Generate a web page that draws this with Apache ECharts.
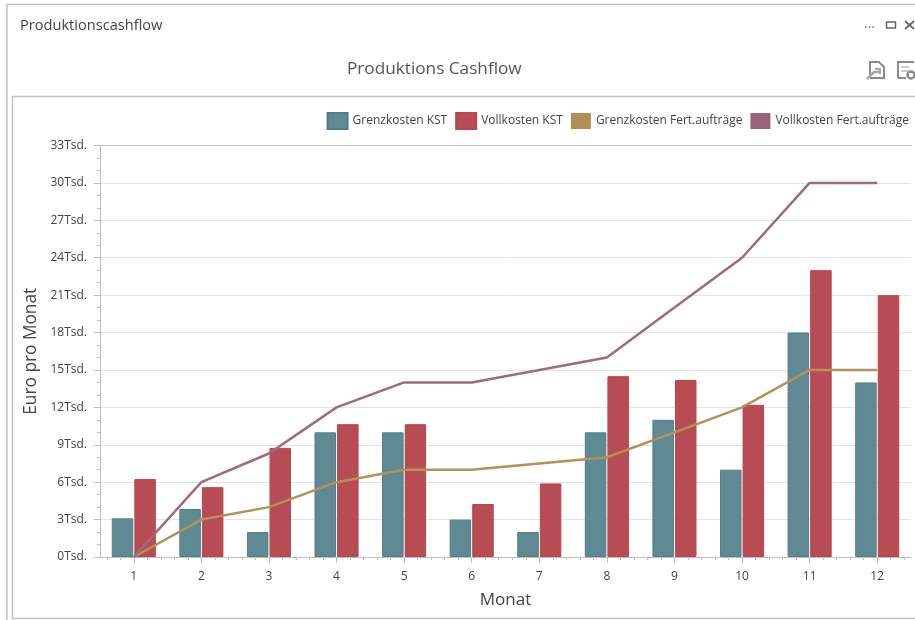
<!DOCTYPE html>
<html><head><meta charset="utf-8">
<style>html,body{margin:0;padding:0;background:#fff}#c{width:915px;height:620px}</style>
<script src="https://cdn.jsdelivr.net/npm/echarts@6/dist/echarts.min.js"></script>
</head><body><div id="c"></div>
<script>
const months = ['1','2','3','4','5','6','7','8','9','10','11','12'];
const grenzKST = [3100,3850,2000,10000,10000,3000,2000,10000,11000,7000,18000,14000];
const vollKST = [6250,5600,8750,10650,10650,4250,5900,14500,14200,12200,23000,21000];
const grenzFert = [0,3000,4000,6000,7000,7000,7500,8000,10000,12000,15000,15000];
const vollFert = [0,6000,8300,12000,14000,14000,15000,16000,20000,24000,30000,30000];
const minorSlots = months.flatMap(m => ['a','b','c','d','e'].map(s => m + s));
const FONT = '"Open Sans","Noto Sans",sans-serif';
const chart = echarts.init(document.getElementById('c'), null, {renderer:'canvas'});
const frame = '#c4c4c4';
const axisGray = '#bdbdbd';
function t(x,y,text,size,color,extra){return {type:'text',x,y,silent:true,style:Object.assign({text,fontSize:size,fontFamily:FONT,fill:color},extra||{})};}
function pl(points,stroke,lineWidth){return {type:'polyline',silent:true,shape:{points},style:{stroke,fill:null,lineWidth}};}
chart.setOption({
  animation:false,
  textStyle:{fontFamily:FONT},
  color:['#5f8a94','#b84c54','#b38f56','#9a6478'],
  legend:{
    top:107,right:1,icon:'rect',itemWidth:20,itemHeight:16,itemGap:8,
    textStyle:{fontSize:12,color:'#444',fontFamily:FONT},
    data:['Grenzkosten KST','Vollkosten KST','Grenzkosten Fert.aufträge','Vollkosten Fert.aufträge']
  },
  grid:{left:100,right:4,top:145.5,bottom:63},
  xAxis:[
    {type:'category',data:months,position:'bottom',
     name:'Monat',nameLocation:'middle',nameGap:35,nameTextStyle:{fontSize:17,color:'#444',fontFamily:FONT},
     axisLine:{lineStyle:{color:axisGray}},
     axisTick:{show:true,alignWithLabel:true,length:6,lineStyle:{color:axisGray}},
     axisLabel:{fontSize:12,color:'#444',margin:14}},
    {type:'category',data:minorSlots,position:'bottom',
     axisLine:{show:false},axisLabel:{show:false},splitLine:{show:false},
     axisTick:{show:true,alignWithLabel:true,interval:0,length:3,lineStyle:{color:axisGray}}},
    {type:'category',data:months,position:'top',
     axisLine:{show:true,lineStyle:{color:axisGray}},axisTick:{show:false},axisLabel:{show:false},splitLine:{show:false}}
  ],
  yAxis:{type:'value',min:0,max:33000,interval:3000,
    name:'Euro pro Monat',nameLocation:'middle',nameGap:55,nameTextStyle:{fontSize:17.3,color:'#444',fontFamily:FONT},
    axisLine:{show:true,lineStyle:{color:axisGray}},
    axisTick:{show:true,length:6,lineStyle:{color:axisGray}},
    minorTick:{show:true,splitNumber:3,length:3,lineStyle:{color:axisGray}},
    splitLine:{show:true,lineStyle:{color:'#e4e4e4'}},
    axisLabel:{fontSize:12,color:'#444',margin:13,formatter:v=>(v/1000)+'Tsd.'}},
  series:[
    {name:'Grenzkosten KST',type:'bar',data:grenzKST,barWidth:21.5,barGap:'5%',itemStyle:{color:'#5f8a94',borderColor:'#527f8a',borderWidth:1}},
    {name:'Vollkosten KST',type:'bar',data:vollKST,barWidth:21.5,barGap:'5%',itemStyle:{color:'#b84c54',borderColor:'#b5474f',borderWidth:1}},
    {name:'Grenzkosten Fert.aufträge',type:'line',data:grenzFert,symbol:'none',z:5,lineStyle:{color:'#b39158',width:2.5},itemStyle:{color:'#b38f56'}},
    {name:'Vollkosten Fert.aufträge',type:'line',data:vollFert,symbol:'none',z:6,lineStyle:{color:'#a0697f',width:2.5},itemStyle:{color:'#9a6478'}}
  ],
  graphic:[
    pl([[7,620],[7,4.5],[915,4.5]],frame,1.5),
    pl([[915,96.5],[12.5,96.5],[12.5,618.5],[915,618.5]],frame,1.5),
    t(20,18,'Produktionscashflow',14.6,'#444'),
    t(347,61,'Produktions Cashflow',17.2,'#555'),
    t(864,17,'...',14,'#777'),
    {type:'rect',silent:true,shape:{x:886.5,y:22,width:9,height:6},style:{fill:null,stroke:'#666',lineWidth:1.5}},
    pl([[905,21],[914,29]],'#666',1.7),
    pl([[914,21],[905,29]],'#666',1.7),
    pl([[870,78],[870,62],[879,62],[884,67],[884,78],[870,78]],'#8a8a8a',2),
    pl([[867,79],[874,72],[879,72]],'#a8a8a8',2.5),
    pl([[875,69],[880,69],[880,74]],'#a8a8a8',2),
    pl([[898,78],[898,62],[914,62]],'#8a8a8a',2),
    pl([[898,78],[906,78]],'#8a8a8a',2),
    pl([[901,67],[909,67]],'#9a9a9a',1),
    pl([[901,71],[909,71]],'#9a9a9a',1),
    {type:'circle',silent:true,shape:{cx:911,cy:75,r:3.5},style:{fill:'#fff',stroke:'#8a8a8a',lineWidth:2.5}}
  ]
});
</script></body></html>
